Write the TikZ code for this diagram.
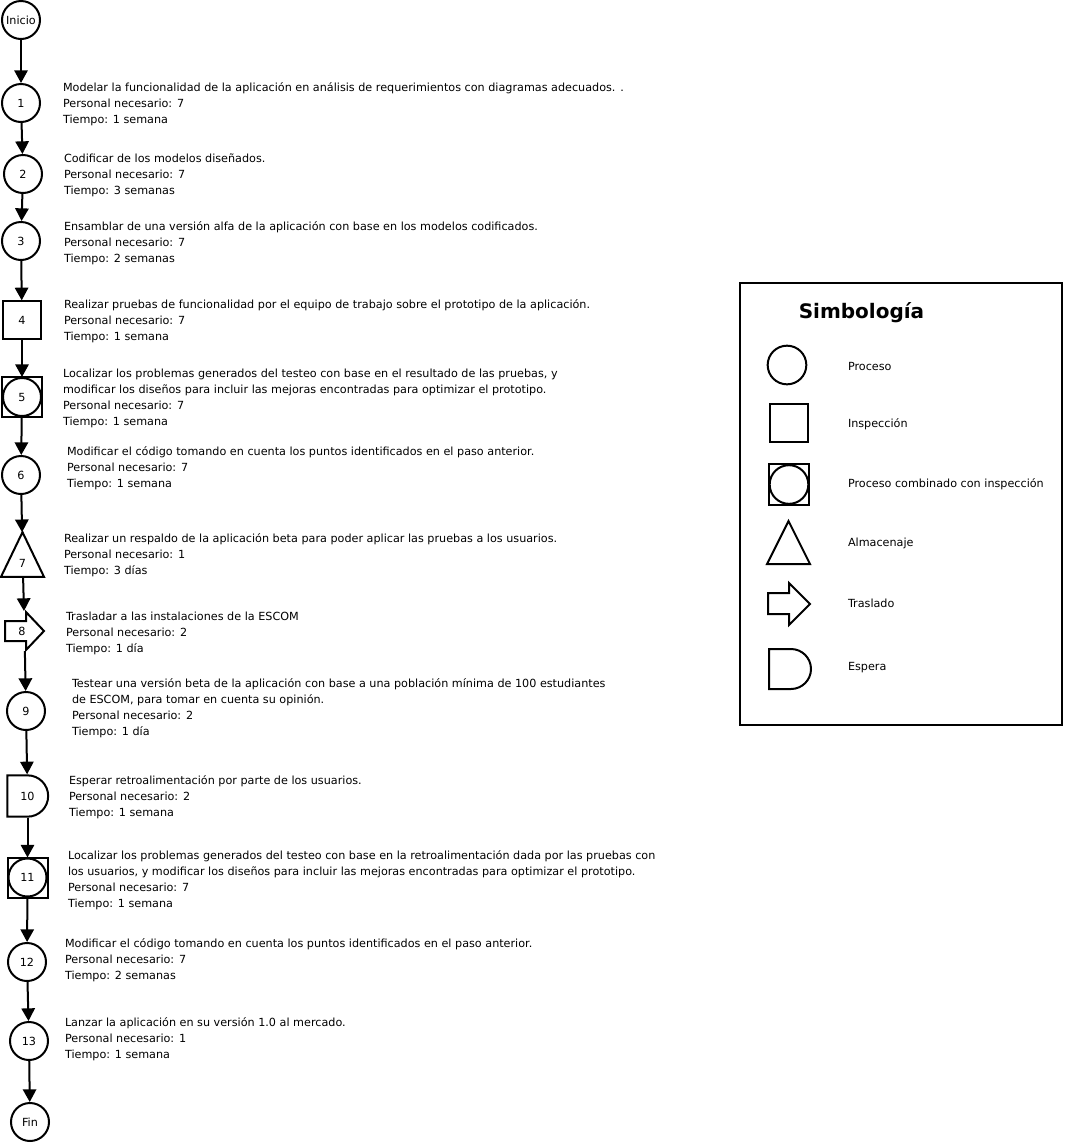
\documentclass[tikz,border=0pt]{standalone}
\usepackage{fontspec}
\setmainfont{DejaVu Sans}
\usetikzlibrary{arrows.meta,shapes.misc}

\begin{document}
\begin{tikzpicture}[x=0.75pt,y=-0.75pt, font=\fontsize{8.4}{12}\selectfont, line width=1.5pt, >={Triangle[length=9.5pt,width=10pt]},
  proc/.style={circle,draw,minimum size=28.5pt,inner sep=0pt},
  insp/.style={rectangle,draw,minimum size=28pt,inner sep=0pt},
  frame/.style={rectangle,inner sep=0pt},
  wait/.style={rounded rectangle,rounded rectangle west arc=none,draw,minimum width=30.5pt,minimum height=31pt,inner sep=0pt},
  txt/.style={anchor=west,align=left,inner sep=0pt},
  key/.style={anchor=west,inner sep=0pt}]
\useasboundingbox (0,0) rectangle (1065,1143);

\node[proc] (s0) at (21,20) {Inicio};
\node[proc] (s1) at (21,103) {1};
\node[proc] (s2) at (23,174) {2};
\node[proc] (s3) at (21,241) {3};
\node[insp] (s4) at (22,320) {4};
\node[proc] (s5) at (22,397) {5};
\draw (s5.west |- s5.north) rectangle (s5.east |- s5.south);
\node[proc] (s6) at (21,475) {6};
\node[frame,minimum width=30.75pt,minimum height=32pt] (s7) at (22.5,554.5) {};
\draw (s7.north) -- (s7.south east) -- (s7.south west) -- cycle;
\node (n7) at (22.5,563) {7};
\node[frame,minimum width=29.25pt,minimum height=28.5pt] (s8) at (24.5,631) {};
\draw (5,621) -- (26,621) -- (26,612) -- (44,631) -- (26,650) -- (26,641) -- (5,641) -- cycle;
\node (n8) at (22,631) {8};
\node[proc] (s9) at (26,711) {9};
\node[wait] (s10) at (27.5,796) {10};
\node[proc] (s11) at (27.5,877.5) {11};
\draw (s11.west |- s11.north) rectangle (s11.east |- s11.south);
\node[proc] (s12) at (27,962) {12};
\node[proc] (s13) at (29,1041) {13};
\node[proc] (s14) at (30,1122) {Fin};

\draw[->] (s0) -- (s1);
\draw[->] (s1) -- (s2);
\draw[->] (s2) -- (s3);
\draw[->] (s3) -- (s4);
\draw[->] (s4) -- (s5);
\draw[->] (s5) -- (s6);
\draw[->] (s6) -- (s7);
\draw[->] (s7) -- (s8);
\draw[->] (s8) -- (s9);
\draw[->] (s9) -- (s10);
\draw[->] (s10) -- (s11);
\draw[->] (s11) -- (s12);
\draw[->] (s12) -- (s13);
\draw[->] (s13) -- (s14);

\node[txt] (t1) at (62,104) {Modelar la funcionalidad de la aplicación en análisis de requerimientos con diagramas adecuados. .\\Personal necesario: 7\\Tiempo: 1 semana};
\node[txt] (t2) at (63,175) {Codificar de los modelos diseñados.\\Personal necesario: 7\\Tiempo: 3 semanas};
\node[txt] (t3) at (63,243) {Ensamblar de una versión alfa de la aplicación con base en los modelos codificados.\\Personal necesario: 7\\Tiempo: 2 semanas};
\node[txt] (t4) at (63,321) {Realizar pruebas de funcionalidad por el equipo de trabajo sobre el prototipo de la aplicación.\\Personal necesario: 7\\Tiempo: 1 semana};
\node[txt] (t5) at (62,398) {Localizar los problemas generados del testeo con base en el resultado de las pruebas, y\\modificar los diseños para incluir las mejoras encontradas para optimizar el prototipo.\\Personal necesario: 7\\Tiempo: 1 semana};
\node[txt] (t6) at (66,468) {Modificar el código tomando en cuenta los puntos identificados en el paso anterior.\\Personal necesario: 7\\Tiempo: 1 semana};
\node[txt] (t7) at (63,555) {Realizar un respaldo de la aplicación beta para poder aplicar las pruebas a los usuarios.\\Personal necesario: 1\\Tiempo: 3 días};
\node[txt] (t8) at (65,633) {Trasladar a las instalaciones de la ESCOM\\Personal necesario: 2\\Tiempo: 1 día};
\node[txt] (t9) at (71,708) {Testear una versión beta de la aplicación con base a una población mínima de 100 estudiantes\\de ESCOM, para tomar en cuenta su opinión.\\Personal necesario: 2\\Tiempo: 1 día};
\node[txt] (t10) at (68,797) {Esperar retroalimentación por parte de los usuarios.\\Personal necesario: 2\\Tiempo: 1 semana};
\node[txt] (t11) at (67,880) {Localizar los problemas generados del testeo con base en la retroalimentación dada por las pruebas con\\los usuarios, y modificar los diseños para incluir las mejoras encontradas para optimizar el prototipo.\\Personal necesario: 7\\Tiempo: 1 semana};
\node[txt] (t12) at (64,960) {Modificar el código tomando en cuenta los puntos identificados en el paso anterior.\\Personal necesario: 7\\Tiempo: 2 semanas};
\node[txt] (t13) at (64,1039) {Lanzar la aplicación en su versión 1.0 al mercado.\\Personal necesario: 1\\Tiempo: 1 semana};

\draw[line width=1.1pt] (740,283) rectangle (1062,725);
\node[font=\fontsize{15}{18}\selectfont\bfseries] (title) at (861.5,313) {Simbología};
\node[proc,minimum size=29pt] (k1) at (787,365) {};
\node[insp,minimum size=29pt] (k2) at (789,423) {};
\node[proc,minimum size=29pt] (k3) at (789,484.5) {};
\draw (k3.west |- k3.north) rectangle (k3.east |- k3.south);
\node[frame,minimum width=30.75pt,minimum height=30.75pt] (k4) at (788.5,542.5) {};
\draw (k4.north) -- (k4.south east) -- (k4.south west) -- cycle;
\draw (768,593) -- (789,593) -- (789,583) -- (810,604) -- (789,625) -- (789,614) -- (768,614) -- cycle;
\node[wait,minimum width=31.5pt,minimum height=30pt] (k6) at (790,669) {};
\node[key] (e1) at (847,366) {Proceso};
\node[key] (e2) at (847,424) {Inspección};
\node[key] (e3) at (847,484) {Proceso combinado con inspección};
\node[key] (e4) at (847,543) {Almacenaje};
\node[key] (e5) at (847,603) {Traslado};
\node[key] (e6) at (847,668) {Espera};
\end{tikzpicture}
\end{document}
